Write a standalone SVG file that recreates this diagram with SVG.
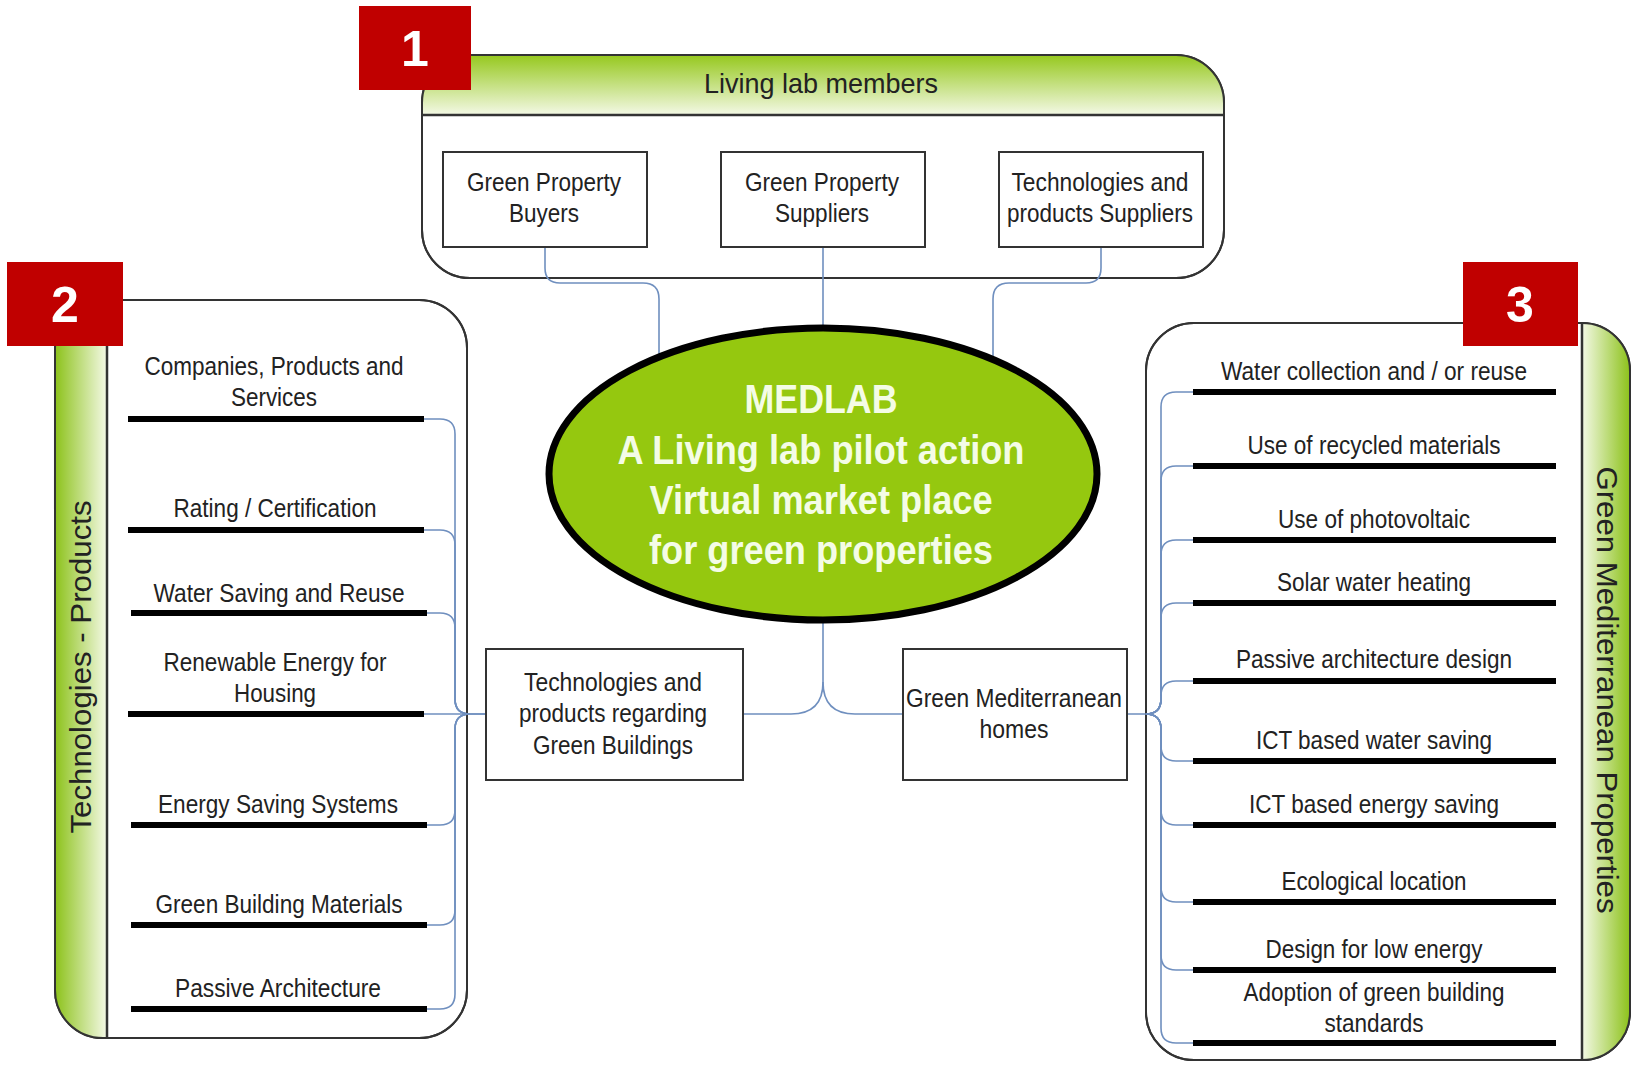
<svg xmlns="http://www.w3.org/2000/svg" width="1633" height="1066" viewBox="0 0 1633 1066">
<style>
.t{font-family:"Liberation Sans",Arial,sans-serif;fill:#222;text-anchor:middle}
.s25{font-size:25px}
.box{fill:#fff;stroke:#333;stroke-width:2}
.cont{fill:#fff;stroke:#333;stroke-width:2}
.bar{stroke:#000;stroke-width:6}
.con{fill:none;stroke:#6f8fbf;stroke-width:1.6}
.badge{fill:#c00000}
.num{font-family:"Liberation Sans",Arial,sans-serif;font-weight:bold;font-size:50px;fill:#fff;text-anchor:middle}
.ell{font-family:"Liberation Sans",Arial,sans-serif;font-weight:bold;font-size:40px;fill:#f4fce6;text-anchor:middle}
</style>
<defs>
<linearGradient id="gH" x1="0" y1="0" x2="0" y2="1"><stop offset="0" stop-color="#96c81e"/><stop offset="1" stop-color="#f4f9e6"/></linearGradient>
<linearGradient id="gL" x1="0" y1="0" x2="1" y2="0"><stop offset="0" stop-color="#8cc21a"/><stop offset="1" stop-color="#f4f9e6"/></linearGradient>
<linearGradient id="gR" x1="1" y1="0" x2="0" y2="0"><stop offset="0" stop-color="#8cc21a"/><stop offset="1" stop-color="#f4f9e6"/></linearGradient>
<clipPath id="cT"><rect x="422" y="55" width="802" height="223" rx="48"/></clipPath>
<clipPath id="cL"><rect x="55" y="300" width="412" height="738" rx="48"/></clipPath>
<clipPath id="cR"><rect x="1146" y="323" width="484" height="737" rx="48"/></clipPath>
</defs>
<rect width="1633" height="1066" fill="#fff"/>

<g id="top-container">
<rect class="cont" x="422" y="55" width="802" height="223" rx="48"/>
<rect x="422" y="55" width="802" height="60" fill="url(#gH)" clip-path="url(#cT)"/>
<rect x="422" y="55" width="802" height="223" rx="48" fill="none" stroke="#333" stroke-width="2"/>
<line x1="422" y1="115" x2="1224" y2="115" stroke="#333" stroke-width="2.5"/>
<text class="t" x="821" y="93" font-size="28" textLength="234" lengthAdjust="spacingAndGlyphs">Living lab members</text>
</g>

<g id="left-container">
<rect class="cont" x="55" y="300" width="412" height="738" rx="48"/>
<rect x="55" y="300" width="52" height="738" fill="url(#gL)" clip-path="url(#cL)"/>
<rect x="55" y="300" width="412" height="738" rx="48" fill="none" stroke="#333" stroke-width="2"/>
<line x1="107" y1="300" x2="107" y2="1038" stroke="#333" stroke-width="2.5"/>
<text class="t" font-size="30" transform="translate(81,667) rotate(-90)" x="0" y="10" textLength="333" lengthAdjust="spacingAndGlyphs">Technologies - Products</text>
</g>

<g id="right-container">
<rect class="cont" x="1146" y="323" width="484" height="737" rx="48"/>
<rect x="1582" y="323" width="48" height="737" fill="url(#gR)" clip-path="url(#cR)"/>
<rect x="1146" y="323" width="484" height="737" rx="48" fill="none" stroke="#333" stroke-width="2"/>
<line x1="1582" y1="323" x2="1582" y2="1060" stroke="#333" stroke-width="2.5"/>
<text class="t" font-size="30" transform="translate(1607,690) rotate(90)" x="0" y="10" textLength="447" lengthAdjust="spacingAndGlyphs">Green Mediterranean Properties</text>
</g>

<g id="connectors">
<path class="con" d="M545 247 V268 Q545 283 560 283 H643 Q659 283 659 299 V357"/>
<path class="con" d="M823 247 V331"/>
<path class="con" d="M1101 247 V268 Q1101 283 1086 283 H1009 Q993 283 993 299 V360"/>
<path class="con" d="M823 620 V682 Q823 714 791 714 H743"/>
<path class="con" d="M823 682 Q823 714 855 714 H903"/>
<path class="con" d="M424 419 H440 Q455 419 455 434 V699 Q455 714 470 714 H486"/>
<path class="con" d="M424 530 H440 Q455 530 455 545 V699 Q455 714 470 714"/>
<path class="con" d="M427 613 H440 Q455 613 455 628 V699 Q455 714 470 714"/>
<path class="con" d="M424 714 H486"/>
<path class="con" d="M427 825 H440 Q455 825 455 810 V729 Q455 714 470 714"/>
<path class="con" d="M427 925 H440 Q455 925 455 910 V729 Q455 714 470 714"/>
<path class="con" d="M427 1009 H440 Q455 1009 455 994 V729 Q455 714 470 714"/>
<path class="con" d="M1127 714 H1146 Q1161 714 1161 699 V407 Q1161 392 1176 392 H1193"/>
<path class="con" d="M1146 714 Q1161 714 1161 699 V481 Q1161 466 1176 466 H1193"/>
<path class="con" d="M1146 714 Q1161 714 1161 699 V555 Q1161 540 1176 540 H1193"/>
<path class="con" d="M1146 714 Q1161 714 1161 699 V618 Q1161 603 1176 603 H1193"/>
<path class="con" d="M1146 714 Q1161 714 1161 699 V696 Q1161 681 1176 681 H1193"/>
<path class="con" d="M1146 714 Q1161 714 1161 729 V746 Q1161 761 1176 761 H1193"/>
<path class="con" d="M1146 714 Q1161 714 1161 729 V810 Q1161 825 1176 825 H1193"/>
<path class="con" d="M1146 714 Q1161 714 1161 729 V887 Q1161 902 1176 902 H1193"/>
<path class="con" d="M1146 714 Q1161 714 1161 729 V955 Q1161 970 1176 970 H1193"/>
<path class="con" d="M1146 714 Q1161 714 1161 729 V1028 Q1161 1043 1176 1043 H1193"/>
</g>

<g id="node-buyers">
<rect class="box" x="443" y="152" width="204" height="95"/>
<text class="t s25" x="544" y="191" textLength="154" lengthAdjust="spacingAndGlyphs">Green Property</text>
<text class="t s25" x="544" y="222" textLength="70" lengthAdjust="spacingAndGlyphs">Buyers</text>
</g>
<g id="node-suppliers">
<rect class="box" x="721" y="152" width="204" height="95"/>
<text class="t s25" x="822" y="191" textLength="154" lengthAdjust="spacingAndGlyphs">Green Property</text>
<text class="t s25" x="822" y="222" textLength="94" lengthAdjust="spacingAndGlyphs">Suppliers</text>
</g>
<g id="node-tech-suppliers">
<rect class="box" x="999" y="152" width="204" height="95"/>
<text class="t s25" x="1100" y="191" textLength="177" lengthAdjust="spacingAndGlyphs">Technologies and</text>
<text class="t s25" x="1100" y="222" textLength="186" lengthAdjust="spacingAndGlyphs">products Suppliers</text>
</g>

<g id="node-medlab">
<ellipse cx="823" cy="474" rx="274" ry="146" fill="#95c80f" stroke="#000" stroke-width="7"/>
<text class="ell" x="821" y="413" textLength="153" lengthAdjust="spacingAndGlyphs">MEDLAB</text>
<text class="ell" x="821" y="464" textLength="407" lengthAdjust="spacingAndGlyphs">A Living lab pilot action</text>
<text class="ell" x="821" y="514" textLength="343" lengthAdjust="spacingAndGlyphs">Virtual market place</text>
<text class="ell" x="821" y="564" textLength="344" lengthAdjust="spacingAndGlyphs">for green properties</text>
</g>

<g id="node-tech-green">
<rect class="box" x="486" y="649" width="257" height="131"/>
<text class="t s25" x="613" y="691" textLength="178" lengthAdjust="spacingAndGlyphs">Technologies and</text>
<text class="t s25" x="613" y="722" textLength="188" lengthAdjust="spacingAndGlyphs">products regarding</text>
<text class="t s25" x="613" y="754" textLength="160" lengthAdjust="spacingAndGlyphs">Green Buildings</text>
</g>
<g id="node-green-homes">
<rect class="box" x="903" y="649" width="224" height="131"/>
<text class="t s25" x="1014" y="707" textLength="216" lengthAdjust="spacingAndGlyphs">Green Mediterranean</text>
<text class="t s25" x="1014" y="738" textLength="69" lengthAdjust="spacingAndGlyphs">homes</text>
</g>

<g id="left-items">
<text class="t s25" x="274" y="375" textLength="259" lengthAdjust="spacingAndGlyphs">Companies, Products and</text>
<text class="t s25" x="274" y="406" textLength="86" lengthAdjust="spacingAndGlyphs">Services</text>
<line class="bar" x1="128" y1="419" x2="424" y2="419"/>
<text class="t s25" x="275" y="517" textLength="203" lengthAdjust="spacingAndGlyphs">Rating / Certification</text>
<line class="bar" x1="128" y1="530" x2="424" y2="530"/>
<text class="t s25" x="279" y="602" textLength="251" lengthAdjust="spacingAndGlyphs">Water Saving and Reuse</text>
<line class="bar" x1="131" y1="613" x2="427" y2="613"/>
<text class="t s25" x="275" y="671" textLength="223" lengthAdjust="spacingAndGlyphs">Renewable Energy for</text>
<text class="t s25" x="275" y="702" textLength="82" lengthAdjust="spacingAndGlyphs">Housing</text>
<line class="bar" x1="128" y1="714" x2="424" y2="714"/>
<text class="t s25" x="278" y="813" textLength="240" lengthAdjust="spacingAndGlyphs">Energy Saving Systems</text>
<line class="bar" x1="131" y1="825" x2="427" y2="825"/>
<text class="t s25" x="279" y="913" textLength="247" lengthAdjust="spacingAndGlyphs">Green Building Materials</text>
<line class="bar" x1="131" y1="925" x2="427" y2="925"/>
<text class="t s25" x="278" y="997" textLength="206" lengthAdjust="spacingAndGlyphs">Passive Architecture</text>
<line class="bar" x1="131" y1="1009" x2="427" y2="1009"/>
</g>

<g id="right-items">
<text class="t s25" x="1374" y="380" textLength="306" lengthAdjust="spacingAndGlyphs">Water collection and / or reuse</text>
<line class="bar" x1="1193" y1="392" x2="1556" y2="392"/>
<text class="t s25" x="1374" y="454" textLength="253" lengthAdjust="spacingAndGlyphs">Use of recycled materials</text>
<line class="bar" x1="1193" y1="466" x2="1556" y2="466"/>
<text class="t s25" x="1374" y="528" textLength="192" lengthAdjust="spacingAndGlyphs">Use of photovoltaic</text>
<line class="bar" x1="1193" y1="540" x2="1556" y2="540"/>
<text class="t s25" x="1374" y="591" textLength="194" lengthAdjust="spacingAndGlyphs">Solar water heating</text>
<line class="bar" x1="1193" y1="603" x2="1556" y2="603"/>
<text class="t s25" x="1374" y="668" textLength="276" lengthAdjust="spacingAndGlyphs">Passive architecture design</text>
<line class="bar" x1="1193" y1="681" x2="1556" y2="681"/>
<text class="t s25" x="1374" y="749" textLength="236" lengthAdjust="spacingAndGlyphs">ICT based water saving</text>
<line class="bar" x1="1193" y1="761" x2="1556" y2="761"/>
<text class="t s25" x="1374" y="813" textLength="250" lengthAdjust="spacingAndGlyphs">ICT based energy saving</text>
<line class="bar" x1="1193" y1="825" x2="1556" y2="825"/>
<text class="t s25" x="1374" y="890" textLength="185" lengthAdjust="spacingAndGlyphs">Ecological location</text>
<line class="bar" x1="1193" y1="902" x2="1556" y2="902"/>
<text class="t s25" x="1374" y="958" textLength="217" lengthAdjust="spacingAndGlyphs">Design for low energy</text>
<line class="bar" x1="1193" y1="970" x2="1556" y2="970"/>
<text class="t s25" x="1374" y="1001" textLength="261" lengthAdjust="spacingAndGlyphs">Adoption of green building</text>
<text class="t s25" x="1374" y="1032" textLength="99" lengthAdjust="spacingAndGlyphs">standards</text>
<line class="bar" x1="1193" y1="1043" x2="1556" y2="1043"/>
</g>

<g id="badge-1">
<rect class="badge" x="359" y="6" width="112" height="84"/>
<text class="num" x="415" y="66">1</text>
</g>
<g id="badge-2">
<rect class="badge" x="7" y="262" width="116" height="84"/>
<text class="num" x="65" y="322">2</text>
</g>
<g id="badge-3">
<rect class="badge" x="1463" y="262" width="115" height="84"/>
<text class="num" x="1520" y="322">3</text>
</g>
</svg>
